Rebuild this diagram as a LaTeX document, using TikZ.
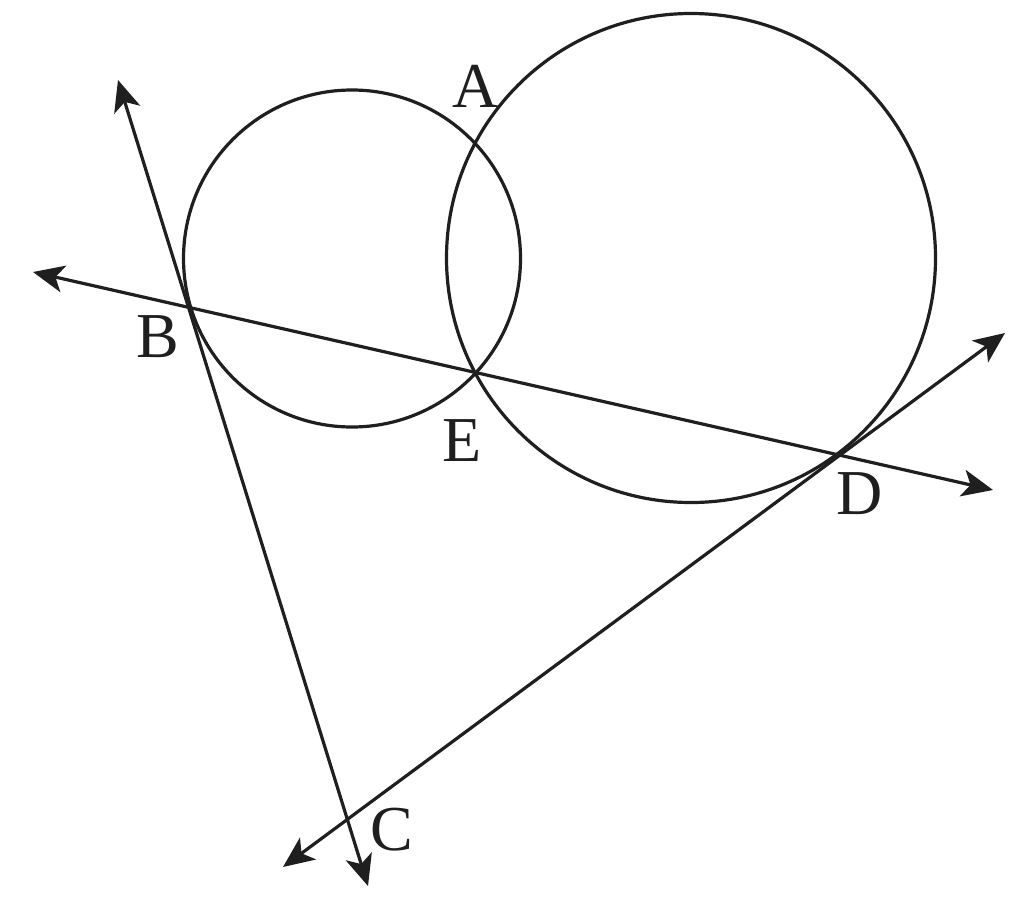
\documentclass[tikz,border=0pt]{standalone}
\usepackage{fontspec}
\setmainfont{Liberation Serif}
\usetikzlibrary{arrows.meta}
\begin{document}
\begin{tikzpicture}[x=1pt,y=-1pt,
  geo/.style={line width=3.2pt,draw=black!88},
  ray/.style={geo,arrows={Stealth[length=31pt,width=27pt,inset=8pt]-Stealth[length=31pt,width=27pt,inset=8pt]}},
  lbl/.style={font=\fontsize{64}{64}\selectfont,inner sep=0pt,text=black!88}]
\useasboundingbox (0,0) rectangle (1024,913);
\fill[white] (0,0) rectangle (1024,913);
% circles
\coordinate (O1) at (352,258.5);
\coordinate (O2) at (691,258);
\draw[geo] (O1) circle[radius=168.5];
\draw[geo] (O2) circle[radius=244.5];
% line end points
\coordinate (bdL) at (33,272);
\coordinate (bdR) at (993,490);
\coordinate (bcT) at (118,80);
\coordinate (bcB) at (368,886);
\coordinate (cdB) at (283,867);
\coordinate (cdT) at (1005,333);
\draw[ray] (bdL) -- (bdR);
\draw[ray] (bcT) -- (bcB);
\draw[ray] (cdB) -- (cdT);
% labels
\node[lbl] (A) at (476,86) {A};
\node[lbl] (B) at (158,337) {B};
\node[lbl] (E) at (462,441) {E};
\node[lbl] (D) at (860,494) {D};
\node[lbl] (C) at (392,830) {C};
\end{tikzpicture}
\end{document}
